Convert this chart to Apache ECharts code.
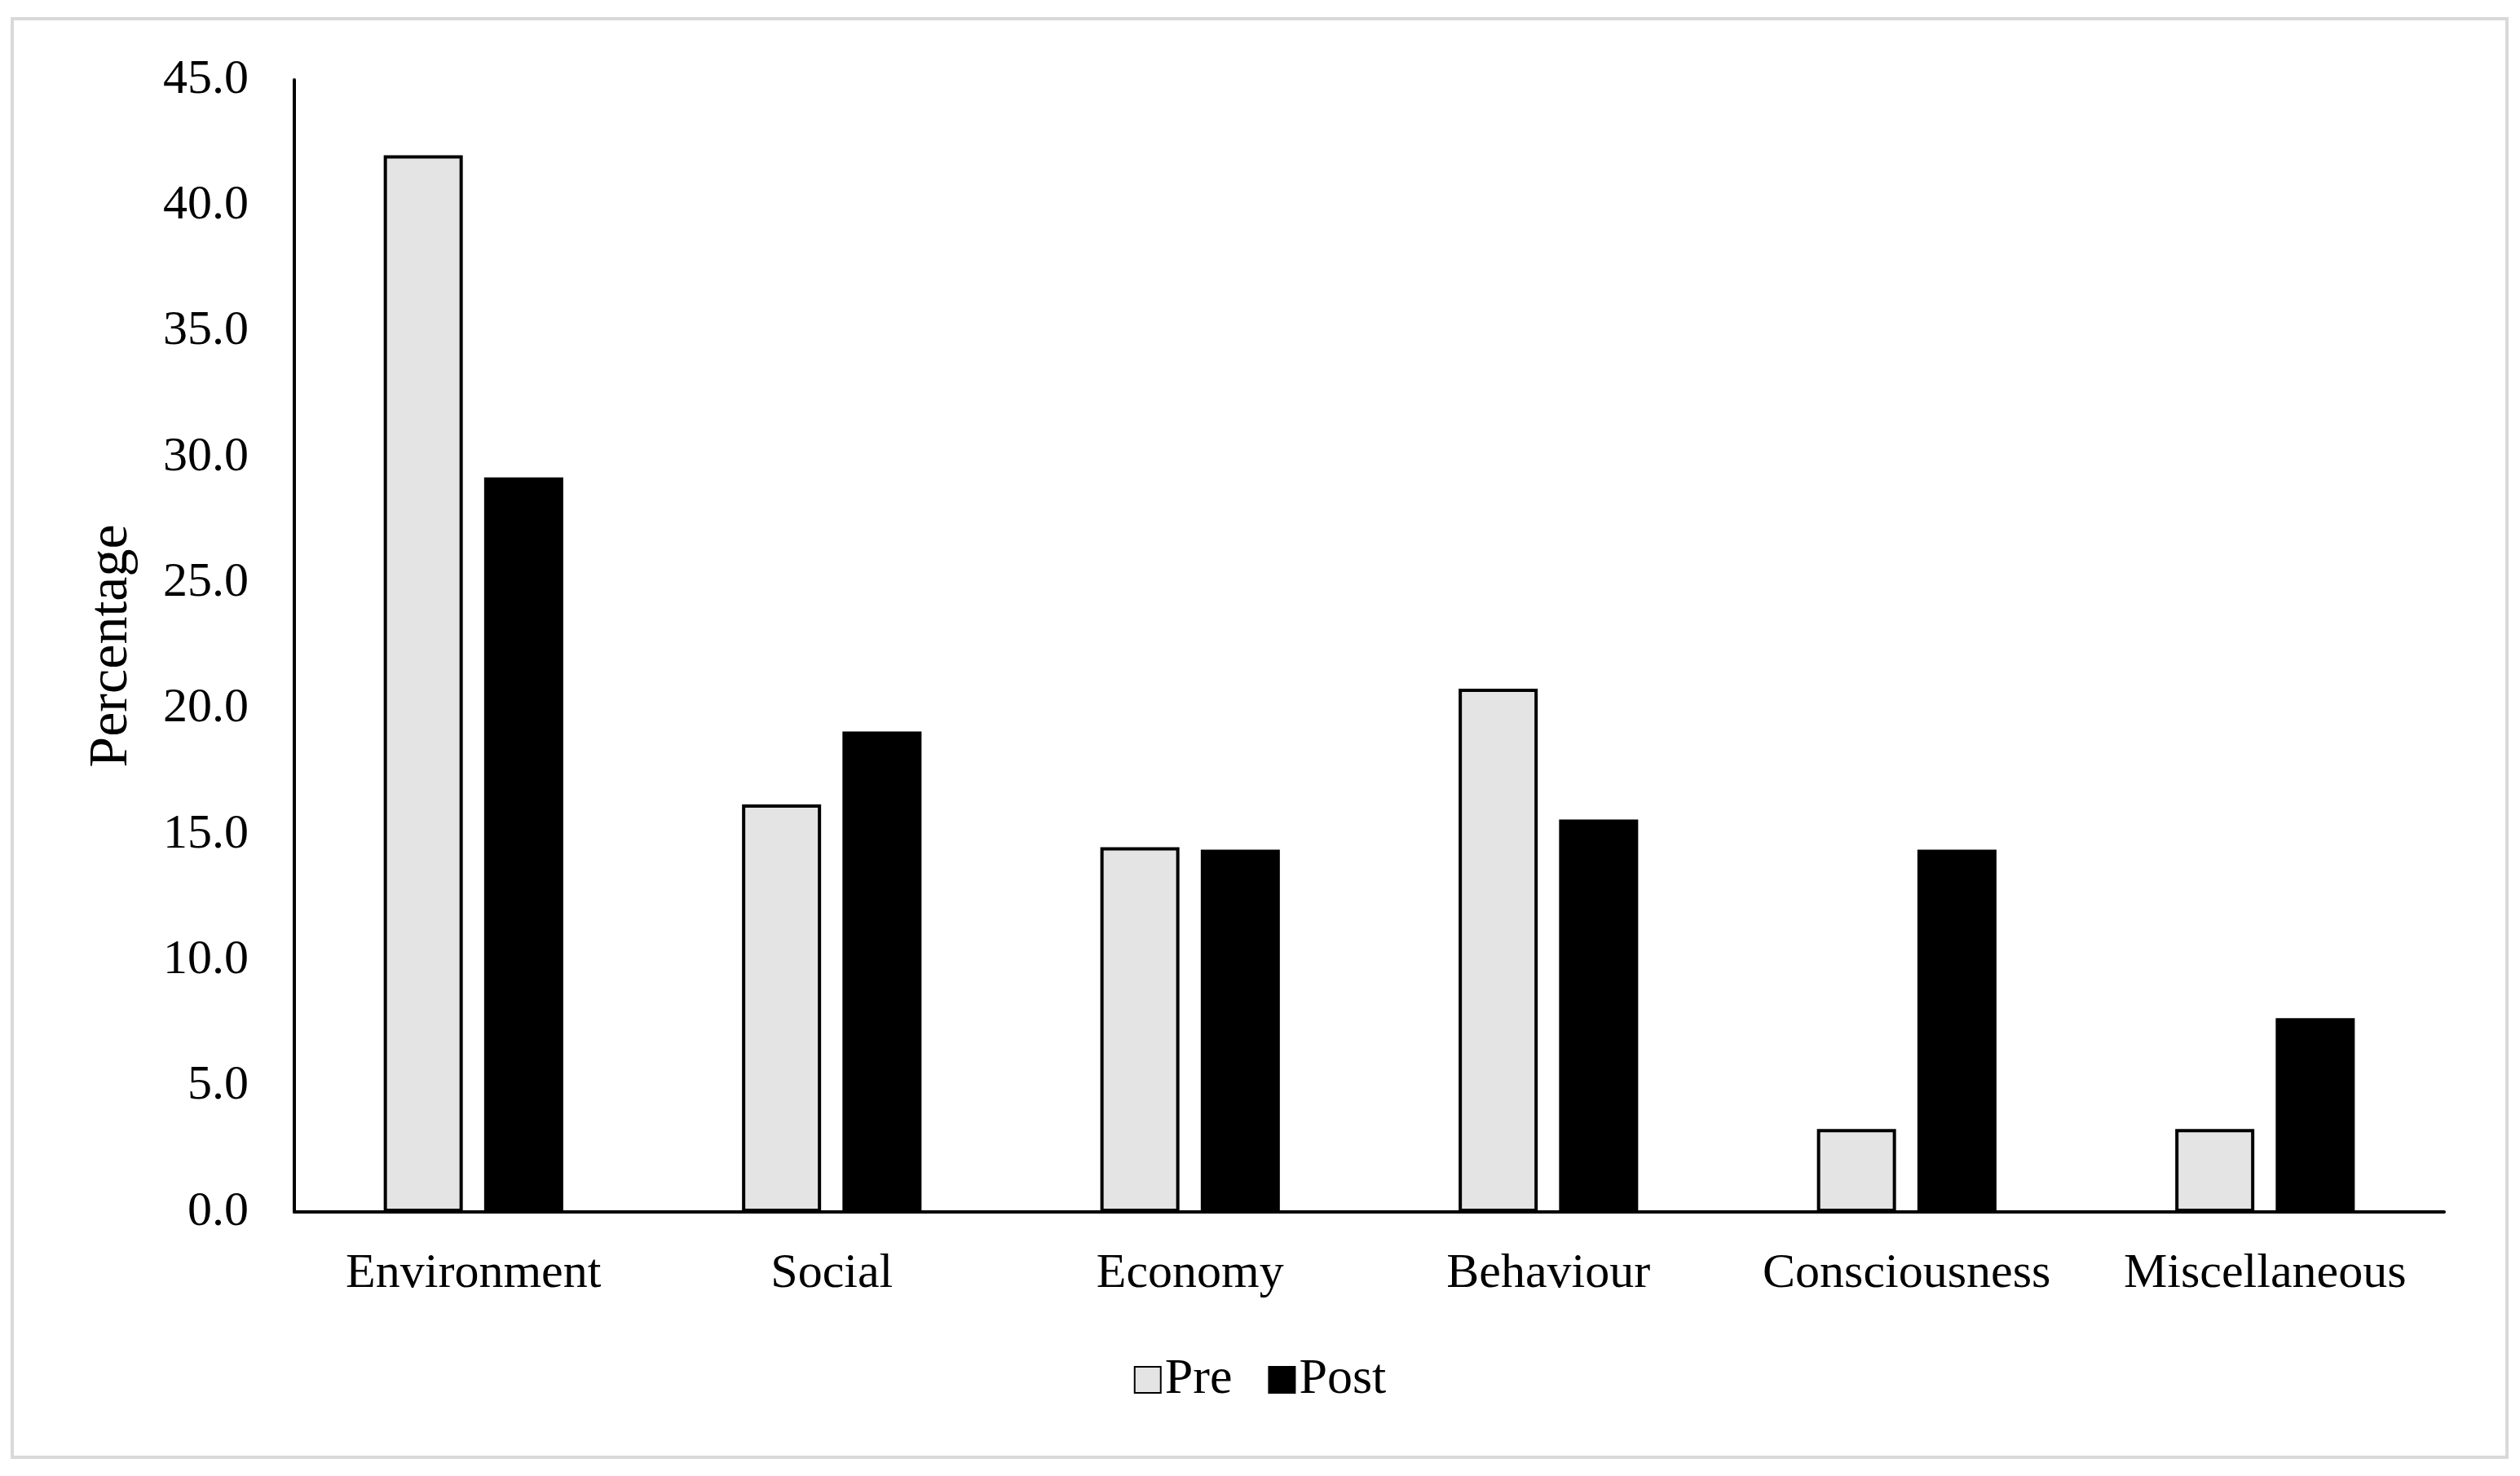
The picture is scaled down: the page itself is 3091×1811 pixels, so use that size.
<!DOCTYPE html>
<html>
<head>
<meta charset="utf-8">
<script src="https://cdn.jsdelivr.net/npm/echarts@6/dist/echarts.min.js"></script>
<style>
html,body{margin:0;padding:0;background:#fff;}
#chart{width:3091px;height:1811px;}
</style>
</head>
<body>
<div id="chart"></div>
<script>
const categories = ['Environment', 'Social', 'Economy', 'Behaviour', 'Consciousness', 'Miscellaneous'];
const preValues = [42.0, 16.2, 14.5, 20.8, 3.3, 3.3];
const postValues = [29.2, 19.1, 14.4, 15.6, 14.4, 7.7];
const seriesNames = ['Pre', 'Post'];
const yAxisName = 'Percentage';

const FONT = '"Liberation Serif", "Times New Roman", serif';
const chart = echarts.init(document.getElementById('chart'));
chart.setOption({
  backgroundColor: '#ffffff',
  animation: false,
  textStyle: { fontFamily: FONT, color: '#000' },
  graphic: [{
    type: 'rect',
    shape: { x: 15, y: 23, width: 3060, height: 1765 },
    style: { fill: 'none', stroke: '#d9d9d9', lineWidth: 4 },
    silent: true
  }],
  grid: { left: 361, right: 93, top: 98, bottom: 324, containLabel: false },
  legend: {
    data: seriesNames,
    bottom: 82,
    left: 'center',
    itemWidth: 32,
    itemHeight: 32,
    itemGap: 44,
    icon: 'rect',
    textStyle: { fontFamily: FONT, fontSize: 62, color: '#000', padding: [0, 0, 0, 0] }
  },
  xAxis: {
    type: 'category',
    data: categories,
    axisLine: { lineStyle: { color: '#000', width: 4 } },
    axisTick: { show: false },
    axisLabel: { fontFamily: FONT, fontSize: 60, color: '#000', margin: 46, interval: 0 },
    splitLine: { show: false }
  },
  yAxis: {
    type: 'value',
    min: 0,
    max: 45,
    interval: 5,
    name: yAxisName,
    nameLocation: 'middle',
    nameGap: 190,
    nameTextStyle: { fontFamily: FONT, fontSize: 68, color: '#000' },
    axisLine: { show: true, lineStyle: { color: '#000', width: 4 } },
    axisTick: { show: false },
    splitLine: { show: false },
    axisLabel: {
      fontFamily: FONT, fontSize: 60, color: '#000', margin: 56,
      formatter: v => v.toFixed(1)
    }
  },
  series: [
    {
      name: seriesNames[0],
      type: 'bar',
      data: preValues,
      barWidth: 97,
      barGap: '27%',
      itemStyle: { color: '#e4e4e4', borderColor: '#000', borderWidth: 4 }
    },
    {
      name: seriesNames[1],
      type: 'bar',
      data: postValues,
      barWidth: 97,
      itemStyle: { color: '#000', borderColor: '#000', borderWidth: 4 }
    }
  ]
});
</script>
</body>
</html>
